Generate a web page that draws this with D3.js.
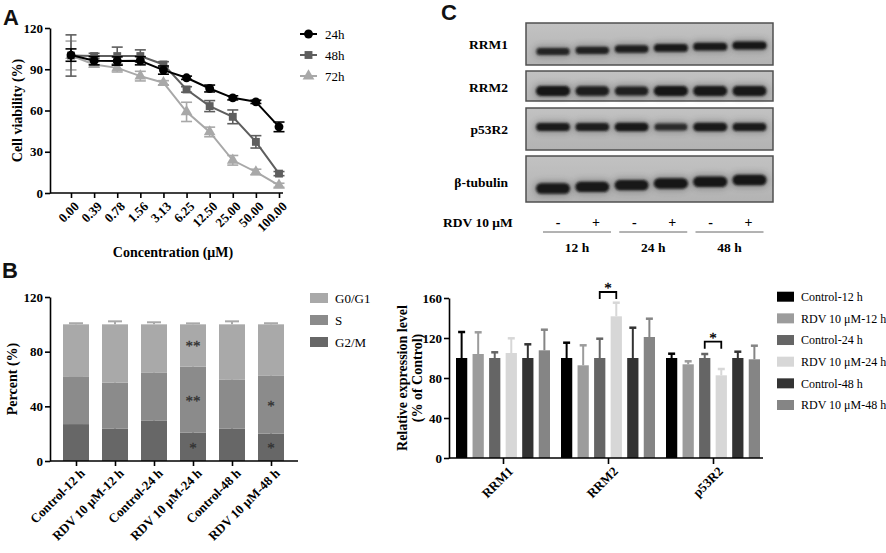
<!DOCTYPE html>
<html><head><meta charset="utf-8">
<script src="https://cdn.jsdelivr.net/npm/d3@7"></script>
<style>
body{margin:0;background:#fff;}
svg{display:block;}
text{-webkit-font-smoothing:antialiased;}
</style></head><body>
<svg id="fig" width="886" height="553"></svg>
<script>
// ---------- DATA ----------
// Panel A: cell viability
const concLabels = ["0.00","0.39","0.78","1.56","3.13","6.25","12.50","25.00","50.00","100.00"];
const viaTicks = [0,30,60,90,120];
const via24 = [100.3, 96.2, 96.0, 96.2, 89.4, 83.8, 76.0, 69.2, 66.3, 48.1];
const via24Err = [4.5, 3, 3, 3, 3, 1.2, 2.5, 1.5, 1.2, 3.5];
const via48 = [100.0, 99.6, 99.6, 99.6, 93.5, 75.3, 63.2, 55.4, 37.2, 14.1];
const via48Err = [15, 2, 6.5, 4.5, 2, 2, 4, 5, 4.5, 1.5];
const via72 = [100.0, 93.5, 91.0, 85.0, 80.2, 59.0, 44.4, 23.8, 15.3, 5.6];
const via72Err = [10.5, 2, 3, 3.5, 1.5, 7, 3.5, 3.5, 2, 1.5];
const viaSeries = ["24h","48h","72h"];

// Panel B: cell cycle
const cycleCats = ["Control-12 h","RDV 10 μM-12 h","Control-24 h","RDV 10 μM-24 h","Control-48 h","RDV 10 μM-48 h"];
const cycleTicks = [0,40,80,120];
const phases = ["G0/G1","S","G2/M"];
const g2m = [27.0, 23.6, 29.4, 20.7, 23.6, 20.0];
const g2mErr = [0.7, 3.6, 3.0, 2.9, 2.7, 2.6];
const sPhase = [34.5, 33.8, 35.1, 48.4, 35.8, 42.3];
const sErr = [0.6, 2.0, 1.9, 3.2, 1.2, 4.1];
const g0g1 = [38.5, 42.6, 35.5, 30.9, 40.6, 37.7];
const g0g1Err = [0.8, 2.2, 1.5, 0.7, 2.2, 0.8];
const cycleStars = [
  {cat:"RDV 10 μM-24 h", phase:"G0/G1", mark:"**"},
  {cat:"RDV 10 μM-24 h", phase:"S", mark:"**"},
  {cat:"RDV 10 μM-24 h", phase:"G2/M", mark:"*"},
  {cat:"RDV 10 μM-48 h", phase:"S", mark:"*"},
  {cat:"RDV 10 μM-48 h", phase:"G2/M", mark:"*"}
];

// Panel C: western blot
const blotProteins = ["RRM1","RRM2","p53R2","β-tubulin"];
const blotTimes = ["12 h","24 h","48 h"];
const blotTreat = ["-","+","-","+","-","+"];
const rrm1Band = [0.72, 0.78, 0.85, 0.95, 0.95, 1.0];
const rrm2Band = [1.0, 0.85, 0.8, 1.0, 0.95, 0.95];
const p53r2Band = [0.9, 0.85, 0.95, 0.6, 0.95, 0.9];
const tubBand = [0.95, 0.95, 0.95, 1.0, 1.0, 1.0];

// Panel D: relative expression
const genes = ["RRM1","RRM2","p53R2"];
const exprGroups = ["Control-12 h","RDV 10 μM-12 h","Control-24 h","RDV 10 μM-24 h","Control-48 h","RDV 10 μM-48 h"];
const exprTicks = [0,40,80,120,160];
const ctrl12 = [100, 100, 100];     const ctrl12Err = [26, 15.3, 4.3];
const rdv12 = [104, 92.7, 93.7];    const rdv12Err = [21.7, 20, 3];
const ctrl24 = [100, 100, 100];     const ctrl24Err = [5.7, 19.3, 4];
const rdv24 = [105, 141.7, 82.7];   const rdv24Err = [14.7, 13.6, 6.3];
const ctrl48 = [100, 100, 100];     const ctrl48Err = [13.7, 30.3, 6.3];
const rdv48 = [107.7, 121, 98.7];   const rdv48Err = [20.6, 18.3, 13.6];
const exprSig = [
  {gene:"RRM2", a:"Control-24 h", b:"RDV 10 μM-24 h", level:166},
  {gene:"p53R2", a:"Control-24 h", b:"RDV 10 μM-24 h", level:116.3}
];

// ---------- DRAW ----------
const serif = '"Liberation Serif","Times New Roman",serif';
const sans = '"Liberation Sans",Arial,sans-serif';
const svg = d3.select("#fig");

function panelLetter(t, x, y){
  svg.append("text").attr("x",x).attr("y",y).attr("font-family",sans)
    .attr("font-weight","bold").attr("font-size",22).attr("fill","#111").text(t);
}
function styleAxis(g){
  g.select(".domain").attr("stroke","#000").attr("stroke-width",1.6);
  g.selectAll(".tick line").attr("stroke","#000").attr("stroke-width",1.6);
  g.selectAll(".tick text").attr("font-family",serif).attr("font-weight","bold")
    .attr("font-size",13).attr("fill","#000");
}
function rotLabels(g, dx, dy){
  g.selectAll(".tick text").attr("x",0).attr("y",0).attr("dy","0.35em")
    .attr("text-anchor","end").attr("transform",`translate(${dx},${dy}) rotate(-45)`);
}
function star(g, x, y, mark, color){
  g.append("text").attr("x",x).attr("y",y).attr("text-anchor","middle")
    .attr("font-family",serif).attr("font-size",15).attr("fill",color)
    .attr("stroke",color).attr("stroke-width",0.3).text(mark);
}

// ===== Panel A =====
panelLetter("A", 3, 25);
const ax = d3.scalePoint().domain(concLabels).range([71,279]);
const ay = d3.scaleLinear().domain([0,120]).range([193,28]);
const gA = svg.append("g");
const yAxA = gA.append("g").attr("transform","translate(50,0)")
  .call(d3.axisLeft(ay).tickValues(viaTicks).tickSize(5).tickSizeOuter(0).tickPadding(2));
styleAxis(yAxA);
const xAxA = gA.append("g").attr("transform","translate(0,193)")
  .call(d3.axisBottom(ax).tickSize(5).tickSizeOuter(0));
styleAxis(xAxA);
xAxA.select(".domain").remove();
gA.append("line").attr("x1",50).attr("x2",283).attr("y1",193).attr("y2",193)
  .attr("stroke","#000").attr("stroke-width",1.6);
rotLabels(xAxA, 5, 11);
gA.append("text").attr("transform",`translate(17,${ay(60)}) rotate(-90)`)
  .attr("text-anchor","middle").attr("dy","0.35em").attr("font-family",serif)
  .attr("font-weight","bold").attr("font-size",14).text("Cell viability (%)");
gA.append("text").attr("x",173).attr("y",257).attr("text-anchor","middle")
  .attr("font-family",serif).attr("font-weight","bold").attr("font-size",14).text("Concentration (μM)");

const viaDefs = [
  {name:"72h", vals:via72, err:via72Err, color:"#a8a8a8", sym:d3.symbolTriangle, size:60},
  {name:"48h", vals:via48, err:via48Err, color:"#5e5e5e", sym:d3.symbolSquare, size:62},
  {name:"24h", vals:via24, err:via24Err, color:"#000000", sym:d3.symbolCircle, size:62}
];
const line = d3.line().x((d,i)=>ax(concLabels[i])).y(d=>ay(d));
viaDefs.forEach(s=>{
  const g = gA.append("g");
  g.append("path").datum(s.vals).attr("d",line).attr("fill","none")
    .attr("stroke",s.color).attr("stroke-width",2);
  s.vals.forEach((v,i)=>{
    const x = ax(concLabels[i]);
    const y1 = ay(v - s.err[i]), y2 = ay(v + s.err[i]);
    g.append("line").attr("x1",x).attr("x2",x).attr("y1",y1).attr("y2",y2).attr("stroke",s.color).attr("stroke-width",1.6);
    [y1,y2].forEach(yy=>g.append("line").attr("x1",x-5.5).attr("x2",x+5.5).attr("y1",yy).attr("y2",yy)
      .attr("stroke",s.color).attr("stroke-width",1.6));
    g.append("path").attr("d",d3.symbol(s.sym,s.size)()).attr("transform",`translate(${x},${ay(v)})`)
      .attr("fill",s.color);
  });
});
// legend A
const legA = gA.append("g");
const legAy = d3.scalePoint().domain(viaSeries).range([34,76]);
viaSeries.forEach(n=>{
  const s = viaDefs.find(d=>d.name===n);
  const y = legAy(n);
  legA.append("line").attr("x1",300).attr("x2",317).attr("y1",y).attr("y2",y).attr("stroke",s.color).attr("stroke-width",2);
  legA.append("path").attr("d",d3.symbol(s.sym,s.size)()).attr("transform",`translate(308.5,${y})`).attr("fill",s.color);
  legA.append("text").attr("x",325).attr("y",y).attr("dy","0.35em").attr("font-family",serif)
    .attr("font-size",13).text(n);
});

// ===== Panel B =====
panelLetter("B", 2, 278);
const bx = d3.scalePoint().domain(cycleCats).range([76,271]);
const by = d3.scaleLinear().domain([0,120]).range([461,297]);
const gB = svg.append("g");
const phaseColor = {"G0/G1":"#a9a9a9","S":"#8b8b8b","G2/M":"#676767"};
const phaseVals = {"G2/M":[g2m,g2mErr],"S":[sPhase,sErr],"G0/G1":[g0g1,g0g1Err]};
const stackOrder = ["G2/M","S","G0/G1"];
const barW = 26;
cycleCats.forEach((c,i)=>{
  let base = 0;
  stackOrder.forEach(p=>{
    const v = phaseVals[p][0][i], e = phaseVals[p][1][i];
    const top = base + v;
    gB.append("rect").attr("x",bx(c)-barW/2).attr("width",barW)
      .attr("y",by(top)).attr("height",by(base)-by(top)).attr("fill",phaseColor[p]);
    const x = bx(c);
    gB.append("line").attr("x1",x).attr("x2",x).attr("y1",by(top)).attr("y2",by(top+e))
      .attr("stroke",phaseColor[p]).attr("stroke-width",2);
    gB.append("line").attr("x1",x-7).attr("x2",x+7).attr("y1",by(top+e)).attr("y2",by(top+e))
      .attr("stroke",phaseColor[p]).attr("stroke-width",2);
    base = top;
  });
});
// stars
cycleStars.forEach(s=>{
  const i = cycleCats.indexOf(s.cat);
  let base = 0, mid = 0;
  for (const p of stackOrder){
    const v = phaseVals[p][0][i];
    if (p===s.phase){ mid = base + v/2; break; }
    base += v;
  }
  star(gB, bx(s.cat), by(mid)+6, s.mark, "#333333");
});
const yAxB = gB.append("g").attr("transform","translate(50,0)")
  .call(d3.axisLeft(by).tickValues(cycleTicks).tickSize(5).tickSizeOuter(0).tickPadding(2));
styleAxis(yAxB);
const xAxB = gB.append("g").attr("transform","translate(0,461)")
  .call(d3.axisBottom(bx).tickSize(5).tickSizeOuter(0));
styleAxis(xAxB);
xAxB.select(".domain").remove();
gB.append("line").attr("x1",50).attr("x2",298).attr("y1",461).attr("y2",461).attr("stroke","#000").attr("stroke-width",1.6);
rotLabels(xAxB, 6, 10);
gB.append("text").attr("transform",`translate(12,${by(60)}) rotate(-90)`)
  .attr("text-anchor","middle").attr("dy","0.35em").attr("font-family",serif)
  .attr("font-weight","bold").attr("font-size",14).text("Percent (%)");
const legBy = d3.scalePoint().domain(phases).range([298,342]);
phases.forEach(p=>{
  gB.append("rect").attr("x",310).attr("y",legBy(p)-5).attr("width",18).attr("height",10).attr("fill",phaseColor[p]);
  gB.append("text").attr("x",335).attr("y",legBy(p)).attr("dy","0.35em").attr("font-family",serif)
    .attr("font-size",13).text(p);
});

// ===== Panel C (blot) =====
panelLetter("C", 441, 20);
const gC = svg.append("g");
const defs = svg.append("defs");
defs.append("filter").attr("id","blur").attr("x","-30%").attr("y","-80%").attr("width","160%").attr("height","260%")
  .append("feGaussianBlur").attr("stdDeviation",1.3);
defs.append("filter").attr("id","blur2").attr("x","-30%").attr("y","-100%").attr("width","160%").attr("height","300%")
  .append("feGaussianBlur").attr("stdDeviation",3);
const bg = defs.append("linearGradient").attr("id","blotbg").attr("x1",0).attr("x2",0).attr("y1",0).attr("y2",1);
bg.append("stop").attr("offset","0%").attr("stop-color","#c2c2c2");
bg.append("stop").attr("offset","100%").attr("stop-color","#b3b3b3");
const laneX = d3.scalePoint().domain(d3.range(6)).range([553,749.5]);
const blotRows = [
  {name:"RRM1", top:23, bot:65, band:51.5, tilt:-1.2, thick:8, vals:rrm1Band},
  {name:"RRM2", top:71, bot:101, band:91, tilt:0, thick:10, vals:rrm2Band},
  {name:"p53R2", top:108, bot:150, band:127, tilt:0, thick:8.5, vals:p53r2Band},
  {name:"β-tubulin", top:156, bot:202, band:188.5, tilt:-1.7, thick:10.5, vals:tubBand}
];
blotRows.forEach(r=>{
  gC.append("rect").attr("x",526).attr("y",r.top).attr("width",247).attr("height",r.bot-r.top)
    .attr("fill","url(#blotbg)").attr("stroke","#505050").attr("stroke-width",1.5);
  gC.append("text").attr("x",508).attr("y",(r.name==="β-tubulin")?182:(r.name==="RRM2"?87:(r.top+r.bot)/2))
    .attr("dy","0.35em").attr("text-anchor","end").attr("font-family",serif).attr("font-weight","bold")
    .attr("font-size",13.5).text(r.name);
  r.vals.forEach((v,i)=>{
    const cx = laneX(i), cy = r.band + r.tilt*i, h = r.thick*(0.6+0.4*v), w = 31 + 3*v;
    gC.append("rect").attr("x",cx-w/2-2).attr("y",cy-h/2-2).attr("width",w+4).attr("height",h+4)
      .attr("rx",(h+4)/2).attr("fill","#333").attr("opacity",0.35).attr("filter","url(#blur2)");
    gC.append("rect").attr("x",cx-w/2).attr("y",cy-h/2).attr("width",w).attr("height",h)
      .attr("rx",h/2).attr("fill","#121212").attr("opacity",0.55+0.45*v).attr("filter","url(#blur)");
  });
});
gC.append("text").attr("x",443).attr("y",222).attr("dy","0.35em").attr("font-family",serif)
  .attr("font-weight","bold").attr("font-size",13.5).text("RDV 10 μM");
const timeX = d3.scalePoint().domain(blotTimes).range([577,729.5]);
blotTreat.forEach((s,i)=>{
  const t = blotTimes[Math.floor(i/2)];
  gC.append("text").attr("x",timeX(t)+(s==="-"?-19:19)).attr("y",222).attr("dy","0.35em")
    .attr("text-anchor","middle").attr("font-family",serif).attr("font-weight","bold").attr("font-size",14).text(s);
});
blotTimes.forEach(t=>{
  gC.append("line").attr("x1",timeX(t)-34).attr("x2",timeX(t)+34).attr("y1",232).attr("y2",232)
    .attr("stroke","#666").attr("stroke-width",1);
  gC.append("text").attr("x",timeX(t)).attr("y",247).attr("dy","0.35em").attr("text-anchor","middle")
    .attr("font-family",serif).attr("font-weight","bold").attr("font-size",13.5).text(t);
});

// ===== Panel D =====
const gD = svg.append("g");
const dx = d3.scalePoint().domain(genes).range([503,713]);
const dsub = d3.scaleBand().domain(exprGroups).range([-47,47]).paddingInner(0.32);
const dy = d3.scaleLinear().domain([0,160]).range([458,298]);
const exprColor = d3.scaleOrdinal().domain(exprGroups)
  .range(["#000000","#9c9c9c","#656565","#d7d7d7","#333333","#858585"]);
const exprVals = {"Control-12 h":[ctrl12,ctrl12Err],"RDV 10 μM-12 h":[rdv12,rdv12Err],
  "Control-24 h":[ctrl24,ctrl24Err],"RDV 10 μM-24 h":[rdv24,rdv24Err],
  "Control-48 h":[ctrl48,ctrl48Err],"RDV 10 μM-48 h":[rdv48,rdv48Err]};
genes.forEach((gname,gi)=>{
  exprGroups.forEach(grp=>{
    const v = exprVals[grp][0][gi], e = exprVals[grp][1][gi];
    const x0 = dx(gname) + dsub(grp), w = dsub.bandwidth(), cx = x0 + w/2;
    gD.append("rect").attr("x",x0).attr("width",w).attr("y",dy(v)).attr("height",dy(0)-dy(v))
      .attr("fill",exprColor(grp));
    gD.append("line").attr("x1",cx).attr("x2",cx).attr("y1",dy(v)).attr("y2",dy(v+e))
      .attr("stroke",exprColor(grp)).attr("stroke-width",2);
    gD.append("line").attr("x1",cx-3.5).attr("x2",cx+3.5).attr("y1",dy(v+e)).attr("y2",dy(v+e))
      .attr("stroke",exprColor(grp)).attr("stroke-width",2.5);
  });
});
exprSig.forEach(s=>{
  const xa = dx(s.gene)+dsub(s.a)+dsub.bandwidth()/2, xb = dx(s.gene)+dsub(s.b)+dsub.bandwidth()/2;
  const yT = dy(s.level), yL = dy(s.level-7);
  gD.append("path").attr("d",`M${xa},${yL}V${yT}H${xb}V${yL}`).attr("fill","none")
    .attr("stroke","#000").attr("stroke-width",1.8);
  star(gD, (xa+xb)/2, yT+1, "*", "#000000");
});
const yAxD = gD.append("g").attr("transform","translate(449,0)")
  .call(d3.axisLeft(dy).tickValues(exprTicks).tickSize(5).tickSizeOuter(0).tickPadding(2));
styleAxis(yAxD);
const xAxD = gD.append("g").attr("transform","translate(0,458)")
  .call(d3.axisBottom(dx).tickSize(6).tickSizeOuter(0));
styleAxis(xAxD);
xAxD.select(".domain").remove();
gD.append("line").attr("x1",449).attr("x2",763).attr("y1",458).attr("y2",458).attr("stroke","#000").attr("stroke-width",1.6);
rotLabels(xAxD, 7, 11);
const tD = gD.append("text").attr("transform",`translate(410,${dy(80)}) rotate(-90)`)
  .attr("text-anchor","middle").attr("font-family",serif).attr("font-weight","bold").attr("font-size",14);
tD.append("tspan").attr("x",0).attr("dy","-0.2em").text("Relative expression level");
tD.append("tspan").attr("x",0).attr("dy","1.05em").text("(% of Control)");
const legDy = d3.scalePoint().domain(exprGroups).range([296.7,405]);
exprGroups.forEach(grp=>{
  gD.append("rect").attr("x",777).attr("y",legDy(grp)-5).attr("width",17).attr("height",10).attr("fill",exprColor(grp));
  gD.append("text").attr("x",801).attr("y",legDy(grp)).attr("dy","0.35em").attr("font-family",serif)
    .attr("font-size",12).text(grp);
});
</script>
</body></html>
